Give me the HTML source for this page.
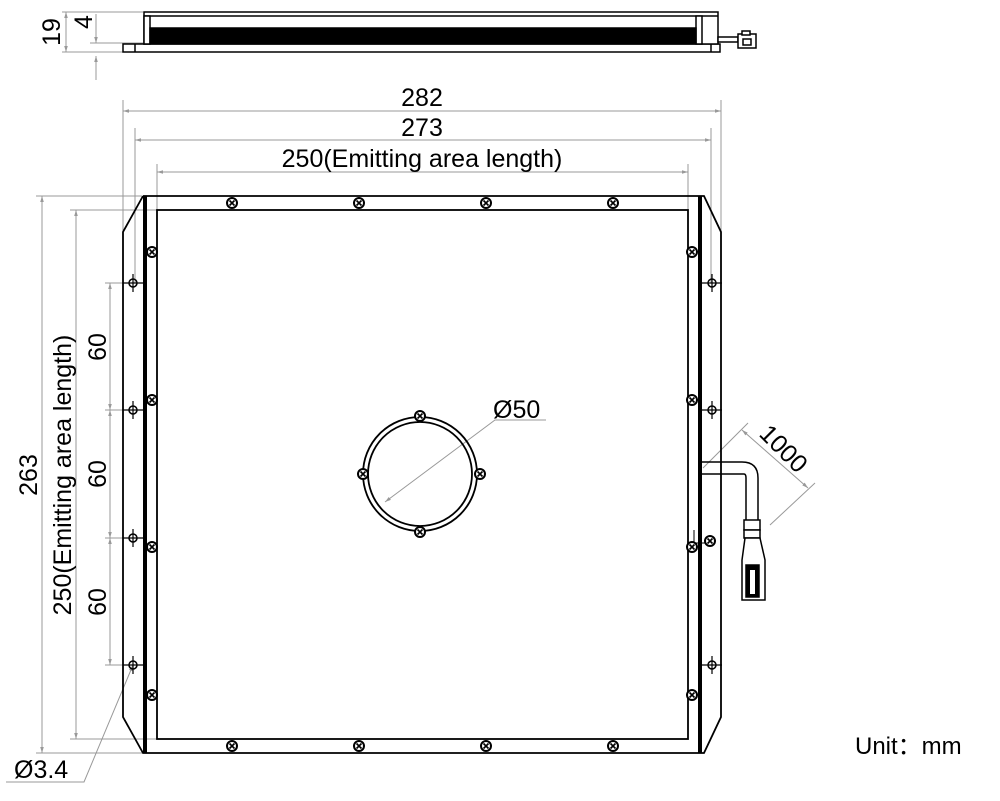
<!DOCTYPE html>
<html><head><style>body{margin:0;background:#fff}svg{display:block}text{font-family:"Liberation Sans",sans-serif;fill:#000}</style></head>
<body>
<svg width="1000" height="801" viewBox="0 0 1000 801" xmlns="http://www.w3.org/2000/svg">
<defs>
<marker id="a" viewBox="0 0 10 10" refX="10" refY="5" markerWidth="10" markerHeight="6" orient="auto-start-reverse" markerUnits="userSpaceOnUse"><path d="M0,2 L10,5 L0,8z" fill="#999"/></marker>
<g id="s"><circle r="5" fill="#fff" stroke="#000" stroke-width="2"/><path d="M-2.5,-2.5 L2.5,2.5 M-2.5,2.5 L2.5,-2.5" stroke="#000" stroke-width="1.6"/></g>
<g id="h"><line x1="-10" y1="0" x2="10" y2="0" stroke="#000" stroke-width="1.2"/><line x1="0" y1="-9" x2="0" y2="9" stroke="#000" stroke-width="1.2"/><circle r="4" fill="none" stroke="#000" stroke-width="1.5"/></g>
</defs>
<g stroke="#999" stroke-width="1" fill="none">
<line x1="62" y1="12" x2="143" y2="12"/><line x1="62" y1="52" x2="123" y2="52"/><line x1="90" y1="43" x2="143" y2="43"/>
<line x1="66" y1="12" x2="66" y2="52" marker-start="url(#a)" marker-end="url(#a)"/>
<line x1="96" y1="14" x2="96" y2="43" marker-end="url(#a)"/><line x1="96" y1="56" x2="96" y2="80" marker-start="url(#a)"/>
<line x1="123" y1="100" x2="123" y2="232"/><line x1="721" y1="100" x2="721" y2="232"/>
<line x1="135" y1="128" x2="135" y2="283"/><line x1="711" y1="128" x2="711" y2="283"/>
<line x1="157" y1="164" x2="157" y2="210"/><line x1="688" y1="164" x2="688" y2="210"/>
<line x1="123" y1="111" x2="721" y2="111" marker-start="url(#a)" marker-end="url(#a)"/>
<line x1="135" y1="140" x2="711" y2="140" marker-start="url(#a)" marker-end="url(#a)"/>
<line x1="157" y1="172" x2="688" y2="172" marker-start="url(#a)" marker-end="url(#a)"/>
<line x1="36" y1="196" x2="142" y2="196"/><line x1="36" y1="753" x2="142" y2="753"/>
<line x1="70" y1="210" x2="157" y2="210"/><line x1="70" y1="739" x2="157" y2="739"/>
<line x1="42" y1="196" x2="42" y2="753" marker-start="url(#a)" marker-end="url(#a)"/>
<line x1="76" y1="210" x2="76" y2="739" marker-start="url(#a)" marker-end="url(#a)"/>
<line x1="105" y1="283" x2="130" y2="283"/><line x1="105" y1="410" x2="130" y2="410"/><line x1="105" y1="538" x2="130" y2="538"/><line x1="105" y1="665" x2="130" y2="665"/>
<line x1="110" y1="283" x2="110" y2="410" marker-start="url(#a)" marker-end="url(#a)"/>
<line x1="110" y1="410" x2="110" y2="538" marker-start="url(#a)" marker-end="url(#a)"/>
<line x1="110" y1="538" x2="110" y2="665" marker-start="url(#a)" marker-end="url(#a)"/>
<polyline points="6,782 84,782 133,665" marker-end="url(#a)"/>
<polyline points="385,502 495,420 546,420" marker-start="url(#a)"/>
<line x1="703" y1="468" x2="748" y2="423"/><line x1="770" y1="525" x2="815" y2="483"/>
<line x1="742" y1="430" x2="808" y2="488" marker-start="url(#a)" marker-end="url(#a)"/>
</g>
<g stroke="#000" fill="#fff" stroke-width="1.5">
<rect x="123" y="44" width="597" height="8"/>
<line x1="135" y1="44" x2="135" y2="52"/><line x1="711" y1="44" x2="711" y2="52"/>
<rect x="144" y="12" width="574" height="32"/>
<line x1="144" y1="16" x2="718" y2="16"/>
<rect x="144" y="16" width="6" height="28"/><rect x="696" y="16" width="6" height="28"/>
<rect x="150" y="28" width="546" height="15" fill="#000"/>
<rect x="718" y="37" width="20" height="5"/>
<rect x="738" y="34" width="18" height="14"/><rect x="742" y="31" width="8" height="4"/><rect x="743" y="39" width="8" height="6"/>
</g>
<g stroke="#000" fill="none" stroke-width="1.8">
<polyline points="143,196 704,196 721,232 721,717 704,753 143,753 123,717 123,232 143,196"/>
<rect x="157" y="210" width="531" height="529"/>
<line x1="145" y1="196" x2="145" y2="753" stroke-width="4"/>
<line x1="700" y1="196" x2="700" y2="753" stroke-width="4"/>
<circle cx="420" cy="474" r="57"/><circle cx="420" cy="474" r="52"/>
<path d="M702,462 H742 Q758,462 758,478 V520 M702,474 H744 Q746,474 746,478 V520" stroke-width="1.5"/>
</g>
<g stroke="#000" stroke-width="1.5" fill="#fff">
<rect x="744" y="520" width="16" height="10"/><rect x="744" y="530" width="16" height="8"/>
<path d="M745,538 L742,560 V600 H765 V560 L760,538Z"/>
<rect x="746" y="565" width="13" height="32" fill="#000"/><rect x="750" y="570" width="5" height="24" fill="#fff" stroke="none"/>
</g>
<line x1="692" y1="543" x2="710" y2="543" stroke="#000"/>
<line x1="694" y1="530" x2="694" y2="550" stroke="#000"/>
<use href="#s" x="232" y="203"/><use href="#s" x="359" y="203"/><use href="#s" x="486" y="203"/><use href="#s" x="613" y="203"/>
<use href="#s" x="232" y="746"/><use href="#s" x="359" y="746"/><use href="#s" x="486" y="746"/><use href="#s" x="613" y="746"/>
<use href="#s" x="152" y="252"/><use href="#s" x="152" y="400"/><use href="#s" x="152" y="547"/><use href="#s" x="152" y="695"/>
<use href="#s" x="692" y="252"/><use href="#s" x="692" y="400"/><use href="#s" x="692" y="547"/><use href="#s" x="692" y="695"/>
<use href="#s" x="420" y="416"/><use href="#s" x="420" y="532"/><use href="#s" x="363" y="474"/><use href="#s" x="480" y="474"/>
<use href="#s" x="710" y="541"/>
<use href="#h" x="133" y="283"/><use href="#h" x="133" y="410"/><use href="#h" x="133" y="538"/><use href="#h" x="133" y="665"/>
<use href="#h" x="712" y="283"/><use href="#h" x="712" y="410"/><use href="#h" x="712" y="665"/>
<g font-size="25">
<text x="422" y="106" text-anchor="middle">282</text>
<text x="422" y="136" text-anchor="middle">273</text>
<text x="422" y="167" text-anchor="middle">250(Emitting area length)</text>
<text transform="translate(37,475) rotate(-90)" text-anchor="middle">263</text>
<text transform="translate(71,475) rotate(-90)" text-anchor="middle">250(Emitting area length)</text>
<text transform="translate(106,347) rotate(-90)" text-anchor="middle">60</text>
<text transform="translate(106,474) rotate(-90)" text-anchor="middle">60</text>
<text transform="translate(106,602) rotate(-90)" text-anchor="middle">60</text>
<text transform="translate(60,32) rotate(-90)" text-anchor="middle">19</text>
<text transform="translate(92,22) rotate(-90)" text-anchor="middle">4</text>
<text x="493" y="418">Ø50</text>
<text transform="translate(758,435) rotate(45)">1000</text>
<text x="14" y="778">Ø3.4</text>
<text x="855" y="754" font-size="24">Unit：mm</text>
</g>
</svg>
</body></html>
